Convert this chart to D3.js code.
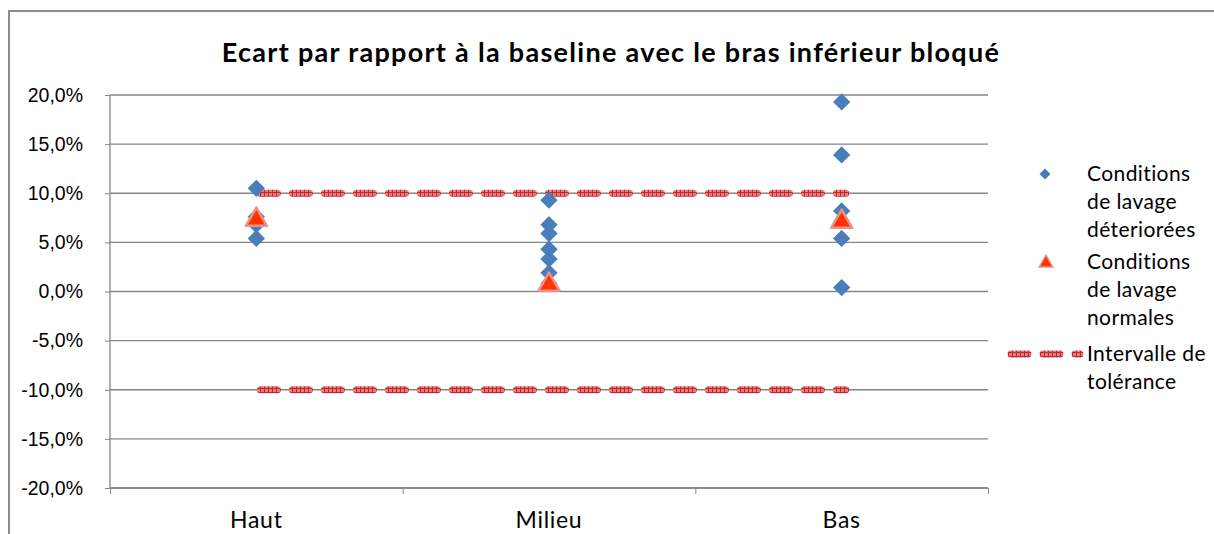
<!DOCTYPE html>
<html>
<head>
<meta charset="utf-8">
<script src="https://cdn.jsdelivr.net/npm/d3@7"></script>
<style>
  body { margin: 0; background: #fff; }
  svg { font-family: Lato, "Open Sans", sans-serif; }
  .axis path, .axis line { stroke: #868686; }
</style>
</head>
<body>
<svg id="chart" width="1214" height="534"></svg>
<script>
"use strict";

var categories = ["Haut", "Milieu", "Bas"];
var yTicks = [-0.2, -0.15, -0.1, -0.05, 0, 0.05, 0.1, 0.15, 0.2];

// Conditions de lavage déteriorées
var deteriorees = [
    { cat: "Haut", values: [0.105, 0.076, 0.068, 0.054] },
    { cat: "Milieu", values: [0.093, 0.068, 0.059, 0.043, 0.033, 0.019, 0.008] },
    { cat: "Bas", values: [0.193, 0.139, 0.082, 0.054, 0.004] }
];
// Conditions de lavage normales
var normales = [
    { cat: "Haut", values: [0.072] },
    { cat: "Milieu", values: [0.006] },
    { cat: "Bas", values: [0.070] }
];
// Intervalle de tolérance
var toleranceHaute = [0.1, 0.1, 0.1];
var toleranceBasse = [-0.1, -0.1, -0.1];

var svg = d3.select("#chart");
var margin = { left: 110, right: 988, top: 95, bottom: 488 };

var defs = svg.append("defs");
var pat = defs.append("pattern").attr("id", "tolPat")
    .attr("patternUnits", "userSpaceOnUse").attr("width", 4).attr("height", 4);
pat.append("rect").attr("width", 4).attr("height", 4).attr("fill", "#e77a7a");
pat.append("rect").attr("width", 1).attr("height", 4).attr("fill", "#c0282e");
pat.append("rect").attr("width", 4).attr("height", 1).attr("fill", "#c0282e");

// chart frame
svg.append("path")
    .attr("d", "M9,540 L9,11 L1220,11")
    .attr("fill", "none").attr("stroke", "#8c8c8c").attr("stroke-width", 2);

var x = d3.scaleLinear().domain([0, categories.length]).range([margin.left, margin.right]);
var y = d3.scaleLinear().domain([-0.2, 0.2]).range([margin.bottom, margin.top]);
var cx = function (c) { return x(categories.indexOf(c) + 0.5); };

// grid
svg.append("g").selectAll("line").data(yTicks).enter().append("line")
    .attr("x1", margin.left).attr("x2", margin.right)
    .attr("y1", function (d) { return y(d); }).attr("y2", function (d) { return y(d); })
    .attr("stroke", "#868686").attr("stroke-width", 1.3);

var fmt = function (d) { return (d * 100).toFixed(1).replace(".", ",") + "%"; };
var gY = svg.append("g").attr("class", "axis")
    .attr("transform", "translate(" + margin.left + ",0)")
    .call(d3.axisLeft(y).tickValues(yTicks).tickSize(5).tickPadding(22).tickFormat(fmt));
gY.select(".domain").attr("d", "M0," + margin.top + "V" + margin.bottom).attr("stroke-width", 1.3);
gY.selectAll("text").attr("font-size", 19.5).attr("fill", "#000");

var gX = svg.append("g").attr("class", "axis")
    .attr("transform", "translate(0," + margin.bottom + ")")
    .call(d3.axisBottom(x).tickValues([0, 1, 2, 3]).tickSize(6).tickFormat(""));
gX.select(".domain").attr("d", "M" + margin.left + ",0H" + margin.right).attr("stroke-width", 1.3);

svg.append("g").selectAll("text").data(categories).enter().append("text")
    .attr("x", function (d) { return cx(d); }).attr("y", 528)
    .attr("text-anchor", "middle").attr("font-size", 23).attr("letter-spacing", 0.7)
    .text(function (d) { return d; });

// tolerance lines
var line = d3.line()
    .x(function (d, i) { return cx(categories[i]); })
    .y(function (d) { return y(d); });
[toleranceHaute, toleranceBasse].forEach(function (s) {
    svg.append("path").datum(s).attr("d", line)
        .attr("fill", "none").attr("stroke", "url(#tolPat)").attr("stroke-width", 7)
        .attr("stroke-linecap", "round").attr("stroke-dasharray", "17 15")
        .attr("transform", "translate(4,0)");
});

// points
var diamond = d3.symbol().type(d3.symbolSquare).size(150);
deteriorees.forEach(function (g) {
    svg.append("g").selectAll("path").data(g.values).enter().append("path")
        .attr("d", diamond)
        .attr("transform", function (d) { return "translate(" + cx(g.cat) + "," + y(d) + ") rotate(45)"; })
        .attr("fill", "#4a7ebb");
});
var tri = d3.symbol().type(d3.symbolTriangle).size(190);
normales.forEach(function (g) {
    svg.append("g").selectAll("path").data(g.values).enter().append("path")
        .attr("d", tri)
        .attr("transform", function (d) { return "translate(" + cx(g.cat) + "," + (y(d) - 1) + ")"; })
        .attr("fill", "#ff3300").attr("stroke", "#e8918c").attr("stroke-width", 2.5)
        .attr("stroke-linejoin", "round");
});

// title
svg.append("text").attr("x", 611).attr("y", 62).attr("text-anchor", "middle")
    .attr("font-size", 27).attr("font-weight", "bold").attr("letter-spacing", 1.3)
    .text("Ecart par rapport à la baseline avec le bras inférieur bloqué");

// legend
var legend = svg.append("g");
var lx = 1087;
legend.append("path").attr("d", d3.symbol().type(d3.symbolSquare).size(60))
    .attr("transform", "translate(1045,174) rotate(45)").attr("fill", "#4a7ebb");
legend.append("path").attr("d", d3.symbol().type(d3.symbolTriangle).size(80))
    .attr("transform", "translate(1046,263)").attr("fill", "#ff3300")
    .attr("stroke", "#e8918c").attr("stroke-width", 1.5);
legend.append("line").attr("x1", 1011).attr("x2", 1080).attr("y1", 354).attr("y2", 354)
    .attr("stroke", "url(#tolPat)").attr("stroke-width", 7)
    .attr("stroke-linecap", "round").attr("stroke-dasharray", "17 15");
var legendLines = [
    ["Conditions", 181], ["de lavage", 209], ["déteriorées", 237],
    ["Conditions", 269], ["de lavage", 297], ["normales", 325],
    ["Intervalle de", 361], ["tolérance", 389]
];
legend.selectAll("text").data(legendLines).enter().append("text")
    .attr("x", lx).attr("y", function (d) { return d[1]; })
    .attr("font-size", 21).attr("letter-spacing", 0.4).text(function (d) { return d[0]; });
</script>
</body>
</html>
